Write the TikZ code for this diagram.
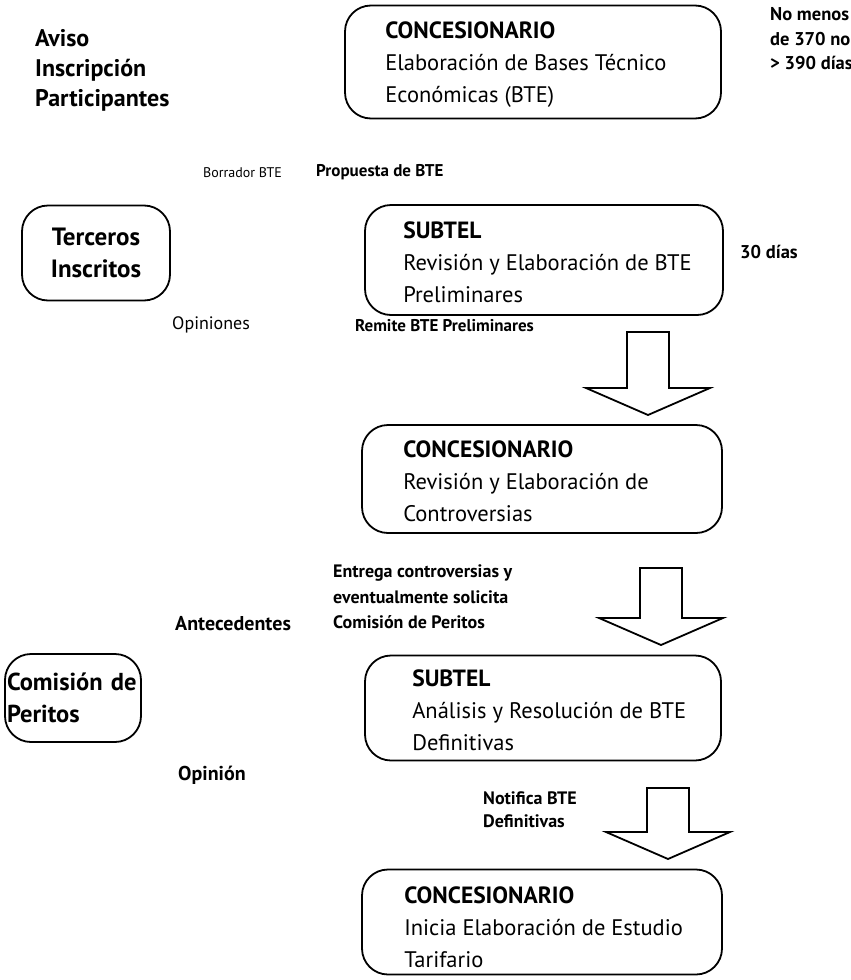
\documentclass[tikz,border=0pt]{standalone}
\usepackage{fontspec}
\setmainfont{PT Sans}
\begin{document}
\begin{tikzpicture}[x=1pt,y=-1pt,
  box/.style={draw, line width=1.8pt, rounded corners=26pt, inner sep=0pt},
  boxtext/.style={anchor=west, inner sep=0pt, align=left, font=\fontsize{22.5}{32}\selectfont},
  sidebox/.style={box, font=\bfseries\fontsize{25}{32}\selectfont},
  lbl/.style={anchor=west, inner sep=0pt, align=left, font=\fontsize{15}{24}\selectfont},
  blbl/.style={lbl, font=\bfseries\fontsize{17}{24}\selectfont},
  mlbl/.style={lbl, font=\bfseries\fontsize{18.5}{24.5}\selectfont},
  llbl/.style={lbl, font=\bfseries\fontsize{20}{24}\selectfont},
  downarrow/.pic={\draw[line width=1.8pt, line join=miter, fill=white]
     (-21,0) -- (-21,#1) -- (-62,#1) -- (0,#1+27) -- (62,#1) -- (21,#1) -- (21,0) -- cycle;}
]
\newcommand\hdtext[1]{{\bfseries\fontsize{23.5}{32}\selectfont #1}}
\useasboundingbox (0,0) rectangle (851,980);
% main boxes
\node[box, minimum width=376pt, minimum height=113pt] (b1) at (533,62) {};
\node[box, minimum width=358pt, minimum height=110pt] (b2) at (544,260) {};
\node[box, minimum width=360pt, minimum height=108pt] (b3) at (542,479) {};
\node[box, minimum width=356pt, minimum height=105pt] (b4) at (543,708) {};
\node[box, minimum width=360pt, minimum height=105pt] (b5) at (542,922) {};
\node[boxtext] (t1) at ([xshift=41pt,yshift=-3pt]b1.west)
  {\hdtext{CONCESIONARIO}\\Elaboración de Bases Técnico\\Económicas (BTE)};
\node[boxtext] (t2) at ([xshift=39pt,yshift=-2pt]b2.west)
  {\hdtext{SUBTEL}\\Revisión y Elaboración de BTE\\Preliminares};
\node[boxtext] (t3) at ([xshift=42pt,yshift=-2pt]b3.west)
  {\hdtext{CONCESIONARIO}\\Revisión y Elaboración de\\Controversias};
\node[boxtext] (t4) at ([xshift=48pt,yshift=-2pt]b4.west)
  {\hdtext{SUBTEL}\\Análisis y Resolución de BTE\\Definitivas};
\node[boxtext] (t5) at ([xshift=43pt,yshift=-5pt]b5.west)
  {\hdtext{CONCESIONARIO}\\Inicia Elaboración de Estudio\\Tarifario};
% side boxes
\node[sidebox, minimum width=148pt, minimum height=95pt, align=center] (t) at (96,253)
  {Terceros\\Inscritos};
\node[sidebox, font=\bfseries\fontsize{24.5}{32}\selectfont, minimum width=136pt, minimum height=88pt, text width=132pt, align=left] (c) at (73,698)
  {Comisión de\\Peritos};
% block arrows
\coordinate (a1) at (648,332);
\coordinate (a2) at (661,568);
\coordinate (a3) at (668,788);
\pic at (a1) {downarrow=56};
\pic at (a2) {downarrow=50};
\pic at (a3) {downarrow=44};
% labels
\node[lbl, font=\bfseries\fontsize{24}{30}\selectfont] (aviso) at (35,70) {Aviso\\Inscripción\\Participantes};
\node[mlbl] (plazo) at (770,39) {No menos\\de 370 no\\> 390 días};
\node[lbl, font=\fontsize{14}{20}\selectfont] (borr) at (203,173) {Borrador BTE};
\node[blbl] (prop) at (316,172) {Propuesta de BTE};
\node[mlbl] (d30) at (740,252) {30 días};
\node[lbl, font=\fontsize{18}{24}\selectfont] (opis) at (172,325) {Opiniones};
\node[blbl] (remite) at (355,326) {Remite BTE Preliminares};
\node[mlbl, font=\bfseries\fontsize{18}{25.5}\selectfont] (entrega) at (333,597) {Entrega controversias y\\eventualmente solicita\\Comisión de Peritos};
\node[llbl] (antec) at (175,624) {Antecedentes};
\node[llbl] (opin) at (178,775) {Opinión};
\node[mlbl, font=\bfseries\fontsize{18}{23}\selectfont] (notif) at (483,810) {Notifica BTE\\Definitivas};
\end{tikzpicture}
\end{document}
